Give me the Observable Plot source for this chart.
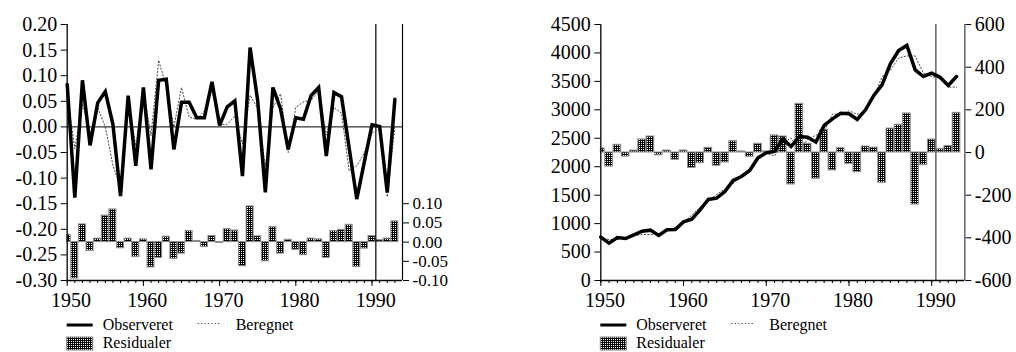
<!DOCTYPE html>
<html><head><meta charset="utf-8">
<script src="https://cdn.jsdelivr.net/npm/d3@7"></script>
<script src="https://cdn.jsdelivr.net/npm/@observablehq/plot@0.6"></script>
<style>
body{margin:0;background:#fff;width:1016px;height:352px;overflow:hidden;position:relative;font-family:"Liberation Serif","Times New Roman",serif;}
.panel{position:absolute;top:0;height:352px;}
.panel > svg{position:absolute;left:0;top:0;}
.lg{position:absolute;font-size:16px;line-height:14px;white-space:nowrap;color:#000;}
</style></head><body>
<svg width="0" height="0" style="position:absolute">
  <defs>
    <pattern id="resPattern" patternUnits="userSpaceOnUse" width="2" height="2">
      <rect width="2" height="2" fill="#000"/>
      <rect x="1" y="1" width="1" height="1" fill="#fff"/>
    </pattern>
  </defs>
</svg>
<div id="left" class="panel" style="left:0;width:450px"></div>
<div id="right" class="panel" style="left:520px;width:496px"></div>
<script>
const years = [1950,1951,1952,1953,1954,1955,1956,1957,1958,1959,1960,1961,1962,1963,1964,1965,1966,1967,1968,1969,1970,1971,1972,1973,1974,1975,1976,1977,1978,1979,1980,1981,1982,1983,1984,1985,1986,1987,1988,1989,1990,1991,1992,1993];

// Left panel: growth rates
const growthObserved = [0.083,-0.138,0.091,-0.036,0.047,0.069,0.005,-0.135,0.061,-0.076,0.077,-0.083,0.091,0.093,-0.044,0.048,0.048,0.018,0.018,0.088,0.003,0.039,0.051,-0.096,0.155,0.051,-0.128,0.077,0.035,-0.044,0.018,0.015,0.061,0.077,-0.057,0.067,0.059,-0.041,-0.141,-0.068,0.004,0.001,-0.128,0.054];
const growthFitted = [0.064,-0.043,0.045,-0.013,0.038,0.000,-0.075,-0.119,0.052,-0.037,0.070,-0.017,0.130,0.079,0.000,0.077,0.019,0.015,0.031,0.072,0.005,0.005,0.021,-0.033,0.062,0.036,-0.078,0.038,0.065,-0.050,0.038,0.049,0.052,0.070,-0.016,0.038,0.027,-0.086,-0.076,-0.051,-0.012,-0.004,-0.137,0.000];
const growthResidual = [0.019,-0.095,0.046,-0.023,0.009,0.069,0.085,-0.016,0.009,-0.039,0.007,-0.066,-0.041,0.014,-0.044,-0.030,0.029,0.003,-0.013,0.016,-0.002,0.034,0.030,-0.063,0.093,0.015,-0.050,0.039,-0.030,0.006,-0.020,-0.034,0.009,0.007,-0.041,0.029,0.032,0.045,-0.065,-0.017,0.016,0.005,0.009,0.054];

// Right panel: levels
const levelObserved = [762,656,756,738,803,867,885,791,891,896,1031,1078,1242,1424,1447,1564,1758,1828,1934,2156,2244,2270,2490,2355,2531,2519,2432,2725,2842,2941,2930,2830,3000,3252,3439,3808,4043,4131,3703,3586,3644,3574,3428,3586];
const levelFitted = [743,722,720,757,794,806,810,804,882,930,1022,1150,1292,1402,1509,1611,1705,1823,1954,2115,2239,2190,2415,2505,2303,2478,2555,2619,2926,2921,2983,2922,2972,3229,3581,3696,3913,3948,3947,3645,3583,3557,3398,3400];
const levelResidual = [19,-66,36,-19,9,61,75,-13,9,-34,9,-72,-50,22,-62,-47,53,5,-20,41,5,80,75,-150,228,41,-123,106,-84,20,-53,-92,28,23,-142,112,130,183,-244,-59,61,17,30,186];

const decadeTicks = [1950,1960,1970,1980,1990];
const growthTicks = [0.20,0.15,0.10,0.05,0.00,-0.05,-0.10,-0.15,-0.20,-0.25,-0.30];
const growthResTicks = [0.10,0.05,0.00,-0.05,-0.10];
const levelTicks = [0,500,1000,1500,2000,2500,3000,3500,4000,4500];
const levelResTicks = [-600,-400,-200,0,200,400,600];
const splitYear = [1990.5];
const xDomain = [1950,1994];

const legendLabels = {obs: "Observeret", fit: "Beregnet", res: "Residualer"};

function rowsOf(obs, fit, res) {
  return years.map((year, i) => ({year, obs: obs[i], fit: fit[i], res: res[i]}));
}

function drawPanel(el, cfg) {
  const rows = rowsOf(cfg.obs, cfg.fit, cfg.res);
  const common = {
    width: cfg.width, height: 312,
    marginLeft: cfg.ml, marginRight: cfg.mr, marginTop: 24, marginBottom: 32,
    style: {fontFamily: '"Liberation Serif","Times New Roman",serif', fontSize: "20px", background: "transparent", overflow: "visible", color: "#000"}
  };
  const bottom = Plot.plot({
    ...common,
    x: {domain: xDomain, axis: null, label: null},
    y: {domain: cfg.resDomain, label: null},
    marks: [
      Plot.rect(rows, {
        x1: d => Math.max(xDomain[0], d.year - 0.46),
        x2: d => d.year + 0.46,
        y1: () => 0, y2: "res",
        fill: "url(#resPattern)", stroke: "#8a8a8a", strokeWidth: 1
      }),
      Plot.axisY(cfg.resTicks, {anchor: "right", tickSize: 6, tickPadding: 4, tickFormat: cfg.resFmt, fontSize: cfg.resFont, label: null})
    ]
  });
  const top = Plot.plot({
    ...common,
    x: {domain: xDomain, label: null},
    y: {domain: cfg.domain, label: null},
    marks: [
      cfg.zeroLine ? Plot.ruleY([0], {stroke: "#000", strokeWidth: 1}) : null,
      Plot.ruleX(splitYear, {stroke: cfg.sideColor, strokeWidth: cfg.sideWidth}),
      Plot.ruleX([xDomain[1]], {stroke: cfg.sideColor, strokeWidth: cfg.sideWidth}),
      Plot.line(rows, {x: "year", y: "fit", stroke: "#444", strokeWidth: 1, strokeDasharray: "1.2,2.2"}),
      Plot.line(rows, {x: "year", y: "obs", stroke: "#000", strokeWidth: 3.5, strokeLinejoin: "miter", strokeMiterlimit: 3}),
      Plot.ruleX([xDomain[0]], {stroke: "#000", strokeWidth: 1.3}),
      Plot.ruleY([cfg.domain[0]], {stroke: "#000", strokeWidth: 1.3}),
      Plot.axisY(cfg.ticks, {anchor: "left", tickSize: 6, tickPadding: 4, tickFormat: cfg.fmt, label: null}),
      Plot.axisX(years, {anchor: "bottom", tickSize: 3, fill: "none", label: null}),
      Plot.axisX(decadeTicks, {anchor: "bottom", tickSize: 6, fill: "none", label: null}),
      Plot.axisX(decadeTicks, {anchor: "bottom", tickSize: 0, tickPadding: 12, dx: cfg.labelShift, tickFormat: d => String(d), label: null})
    ]
  });
  el.appendChild(bottom);
  el.appendChild(top);

  // legend
  const L = cfg.ml;
  const lg = document.createElementNS("http://www.w3.org/2000/svg", "svg");
  lg.setAttribute("width", cfg.width); lg.setAttribute("height", 352);
  lg.style.pointerEvents = "none";
  lg.innerHTML =
    `<line x1="${L}" x2="${L + 26}" y1="325" y2="325" stroke="#000" stroke-width="3"/>` +
    `<line x1="${L + 131}" x2="${L + 154}" y1="323.5" y2="323.5" stroke="#444" stroke-width="1" stroke-dasharray="1.2,2.2"/>` +
    `<rect x="${L}" y="337" width="26" height="13" fill="url(#resPattern)" stroke="#8a8a8a" stroke-width="1"/>`;
  el.appendChild(lg);
  const add = (txt, x, t) => {
    const d = document.createElement("div");
    d.className = "lg"; d.textContent = txt;
    d.style.left = x + "px"; d.style.top = t + "px";
    el.appendChild(d);
  };
  // 16px font, 14px line box: baseline ≈ top + 12.3
  add(legendLabels.obs, L + 36, 318.2);
  add(legendLabels.fit, L + 169, 318.2);
  add(legendLabels.res, L + 36, 336.2);
}

drawPanel(document.getElementById("left"), {
  width: 450, ml: 66.7, mr: 48,
  obs: growthObserved, fit: growthFitted, res: growthResidual,
  domain: [-0.30, 0.20], ticks: growthTicks, fmt: d => d.toFixed(2),
  resDomain: [-0.10, 0.5666667], resTicks: growthResTicks, resFmt: d => d.toFixed(2), resFont: 17,
  zeroLine: true, sideColor: "#000", sideWidth: 1.2, labelShift: 3.8
});
drawPanel(document.getElementById("right"), {
  width: 496, ml: 80.3, mr: 51.7,
  obs: levelObserved, fit: levelFitted, res: levelResidual,
  domain: [0, 4500], ticks: levelTicks, fmt: d => String(d),
  resDomain: [-600, 600], resTicks: levelResTicks, resFmt: d => String(d), resFont: 20,
  zeroLine: false, sideColor: "#6e6e6e", sideWidth: 1.6, labelShift: 4.1
});
</script>
</body></html>
